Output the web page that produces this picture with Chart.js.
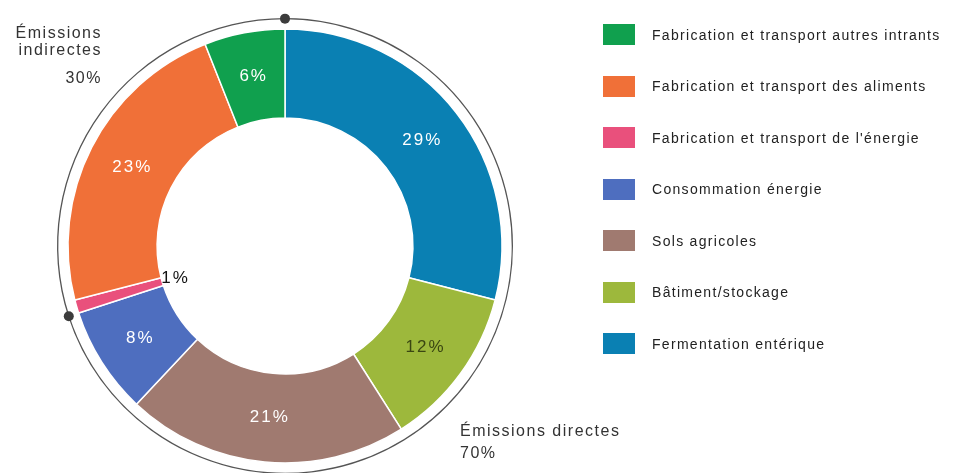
<!DOCTYPE html>
<html lang="fr">
<head>
<meta charset="utf-8">
<title>Émissions</title>
<script src="https://cdn.jsdelivr.net/npm/chart.js@4.4.1/dist/chart.umd.min.js"></script>
<style>
  html, body { margin: 0; padding: 0; background: #fff; }
  #wrap { position: relative; width: 955px; height: 473px; overflow: hidden; font-family: "Liberation Sans", Arial, sans-serif; }
  #wrap canvas { position: absolute; left: 0; top: 0; }
  .note { position: absolute; color: #333; font-size: 16px; letter-spacing: 1.5px; }
  #indirect { left: 0; top: 24px; width: 102px; text-align: right; line-height: 17px; }
  #indirect .pct { margin-top: 11px; }
  #direct { left: 460px; top: 420px; line-height: 22px; }
  #legend { position: absolute; left: 603px; top: 24px; margin: 0; padding: 0; list-style: none; }
  #legend li { display: flex; align-items: center; height: 21px; margin-bottom: 30.5px; font-size: 14px; color: #222; letter-spacing: 1.3px; white-space: nowrap; }
  #legend .box { display: inline-block; width: 32px; height: 21px; margin-right: 17px; }
</style>
</head>
<body>
<div id="wrap">
  <canvas id="myChart" width="955" height="473"></canvas>
  <div class="note" id="indirect"></div>
  <div class="note" id="direct"></div>
  <ul id="legend"></ul>
</div>
<script>
'use strict';
// parts, clockwise from the top
let categories = [
  'Fermentation entérique',
  'Bâtiment/stockage',
  'Sols agricoles',
  'Consommation énergie',
  'Fabrication et transport de l\'énergie',
  'Fabrication et transport des aliments',
  'Fabrication et transport autres intrants'
];
let shareValues = [29, 12, 21, 8, 1, 23, 6];

let groupLabels = ['Émissions directes', 'Émissions indirectes'];
let groupValues = [70, 30];

let sliceColors = ['#0a80b3', '#9db83c', '#a07a70', '#4e6ebf', '#e9507c', '#f07038', '#10a04e'];
let labelColors = ['#fff', '#3a4612', '#fff', '#fff', '#111', '#fff', '#fff'];

// percent labels + the two dots on the outer line
const ringLabels = {
  id: 'ringLabels',
  afterDatasetsDraw(chart) {
    let ctx = chart.ctx;
    let arcs = chart.getDatasetMeta(2).data;
    ctx.save();
    ctx.font = '17px "Liberation Sans", Arial, sans-serif';
    ctx.letterSpacing = '2px';
    ctx.textAlign = 'center';
    ctx.textBaseline = 'middle';
    for (let i = 0; i < arcs.length; i++) {
      let p = arcs[i].getProps(['x', 'y', 'startAngle', 'endAngle', 'innerRadius', 'outerRadius']);
      let mid = (p.startAngle + p.endAngle) / 2;
      let r = (p.innerRadius + p.outerRadius) / 2;
      if (shareValues[i] < 3) r = p.innerRadius - 13;
      ctx.fillStyle = labelColors[i];
      ctx.fillText(shareValues[i] + '%', p.x + Math.cos(mid) * r + 1, p.y + Math.sin(mid) * r);
    }
    let groups = chart.getDatasetMeta(0).data;
    ctx.fillStyle = '#3c3c3c';
    for (let g of groups) {
      let p = g.getProps(['x', 'y', 'startAngle', 'innerRadius', 'outerRadius']);
      let r = (p.innerRadius + p.outerRadius) / 2;
      ctx.beginPath();
      ctx.arc(p.x + Math.cos(p.startAngle) * r, p.y + Math.sin(p.startAngle) * r, 5, 0, Math.PI * 2);
      ctx.fill();
    }
    ctx.restore();
  }
};

let ctx = document.getElementById('myChart').getContext('2d');
let myChart = new Chart(ctx, {
  type: 'doughnut',
  data: {
    labels: categories,
    datasets: [
      { label: 'groupes', data: groupValues, backgroundColor: '#555', borderWidth: 0, weight: 1.3 },
      { label: 'espace', data: [100], backgroundColor: 'rgba(0,0,0,0)', borderWidth: 0, weight: 9.7 },
      { label: 'parts', data: shareValues, backgroundColor: sliceColors, borderColor: '#fff', borderWidth: 1.5, weight: 89 }
    ]
  },
  options: {
    responsive: false,
    animation: false,
    events: [],
    radius: 228,
    cutout: '56.1%',
    layout: { padding: { left: 57, right: 442, top: 19, bottom: 0 } },
    plugins: {
      legend: { display: false },
      tooltip: { enabled: false }
    }
  },
  plugins: [ringLabels]
});

// notes for direct / indirect
document.getElementById('indirect').innerHTML =
  groupLabels[1].replace(' ', '<br>') + '<div class="pct">' + groupValues[1] + '%</div>';
document.getElementById('direct').innerHTML =
  groupLabels[0] + '<br>' + groupValues[0] + '%';

// legend, same order as the picture (reverse of the slices)
let legend = document.getElementById('legend');
for (let i = categories.length - 1; i >= 0; i--) {
  let li = document.createElement('li');
  let box = document.createElement('span');
  box.className = 'box';
  box.style.background = sliceColors[i];
  li.appendChild(box);
  li.appendChild(document.createTextNode(categories[i]));
  legend.appendChild(li);
}
</script>
</body>
</html>
